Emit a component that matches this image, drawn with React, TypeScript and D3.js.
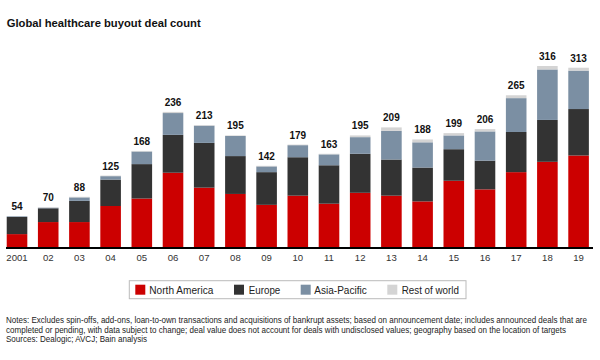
import React from "react";
import * as d3 from "d3";

const years = ["2001","02","03","04","05","06","07","08","09","10","11","12","13","14","15","16","17","18","19"];
const northAmerica = [23,44,44,72,85,130,104,93,74,90,76,95,90,80,116,101,131,149,160];
const europe = [30,24,37,46,60,66,78,66,57,67,67,68,63,59,55,50,70,73,81];
const asiaPacific = [1,1,6,6,22,38,30,35,10,21,19,29,50,44,24,51,59,88,67];
const restOfWorld = [0,1,1,1,1,2,1,1,1,1,1,3,6,5,4,4,5,6,5];
const totals = [54,70,88,125,168,236,213,195,142,179,163,195,209,188,199,206,265,316,313];
const seriesNames = ["North America","Europe","Asia-Pacific","Rest of world"];
const seriesColors = ["#cc0000","#333333","#7b8fa3","#d4d4d4"];
const noteLines = [
  "Notes: Excludes spin-offs, add-ons, loan-to-own transactions and acquisitions of bankrupt assets; based on announcement date; includes announced deals that are",
  "completed or pending, with data subject to change; deal value does not account for deals with undisclosed values; geography based on the location of targets",
  "Sources: Dealogic; AVCJ; Bain analysis",
];

export default function App() {
  const W = 600, H = 360;
  const font = "'Liberation Sans', Arial, sans-serif";
  const rows = years.map((y, i) => ({
    year: y,
    na: northAmerica[i], eu: europe[i], ap: asiaPacific[i], rw: restOfWorld[i], total: totals[i],
  }));
  const keys = ["na","eu","ap","rw"];
  const stack = d3.stack<any>().keys(keys)(rows);
  const x = d3.scaleBand<string>().domain(years).range([3.6, 592]).paddingInner(0.34).paddingOuter(0.1);
  const y = d3.scaleLinear().domain([0, 330]).range([247.3, 247.3 - 330 * 0.5737]);

  const legendItems = [
    { x: 135.3, tx: 149.3, w: 64 },
    { x: 234, tx: 248.7, w: 31.6 },
    { x: 300.7, tx: 314.3, w: 52.4 },
    { x: 387.3, tx: 401.7, w: 57.3 },
  ];
  const noteWidths = [581, 560, 141];

  return (
    <div style={{ position: "fixed", left: 0, top: 0 }}>
      <svg width={W} height={H} style={{ display: "block", background: "#fff" }} fontFamily={font}>
        <text x={6.7} y={26.5} fontSize={11.4} fontWeight="bold" fill="#111" textLength={194} lengthAdjust="spacingAndGlyphs">Global healthcare buyout deal count</text>
        {stack.map((s, si) => (
          <g key={si} fill={seriesColors[si]}>
            {s.map((d, i) => (
              <rect key={i} x={x(years[i])} width={x.bandwidth()} y={y(d[1])} height={Math.max(0, y(d[0]) - y(d[1]))} />
            ))}
          </g>
        ))}
        {rows.map((r, i) => (
          <text key={i} x={(x(r.year) as number) + x.bandwidth() / 2} y={y(r.total) - 6} textAnchor="middle" fontSize={10} fontWeight="bold" fill="#111">{r.total}</text>
        ))}
        <line x1={6} x2={593} y1={248} y2={248} stroke="#000" strokeWidth={2} />
        {years.map((yr) => (
          <text key={yr} x={(x(yr) as number) + x.bandwidth() / 2} y={261} textAnchor="middle" fontSize={9.6} fill="#333">{yr}</text>
        ))}
        <rect x={129.3} y={280.7} width={336.7} height={18} fill="#fff" stroke="#bbb" strokeWidth={1} />
        {seriesNames.map((n, i) => (
          <g key={n}>
            <rect x={legendItems[i].x} y={284.7} width={10} height={10} fill={seriesColors[i]} />
            <text x={legendItems[i].tx} y={293.6} fontSize={11.5} fill="#222" textLength={legendItems[i].w} lengthAdjust="spacingAndGlyphs">{n}</text>
          </g>
        ))}
        {noteLines.map((l, i) => (
          <text key={i} x={6} y={323 + i * 9.7} fontSize={8.2} fill="#222" textLength={noteWidths[i]} lengthAdjust="spacingAndGlyphs">{l}</text>
        ))}
      </svg>
    </div>
  );
}
